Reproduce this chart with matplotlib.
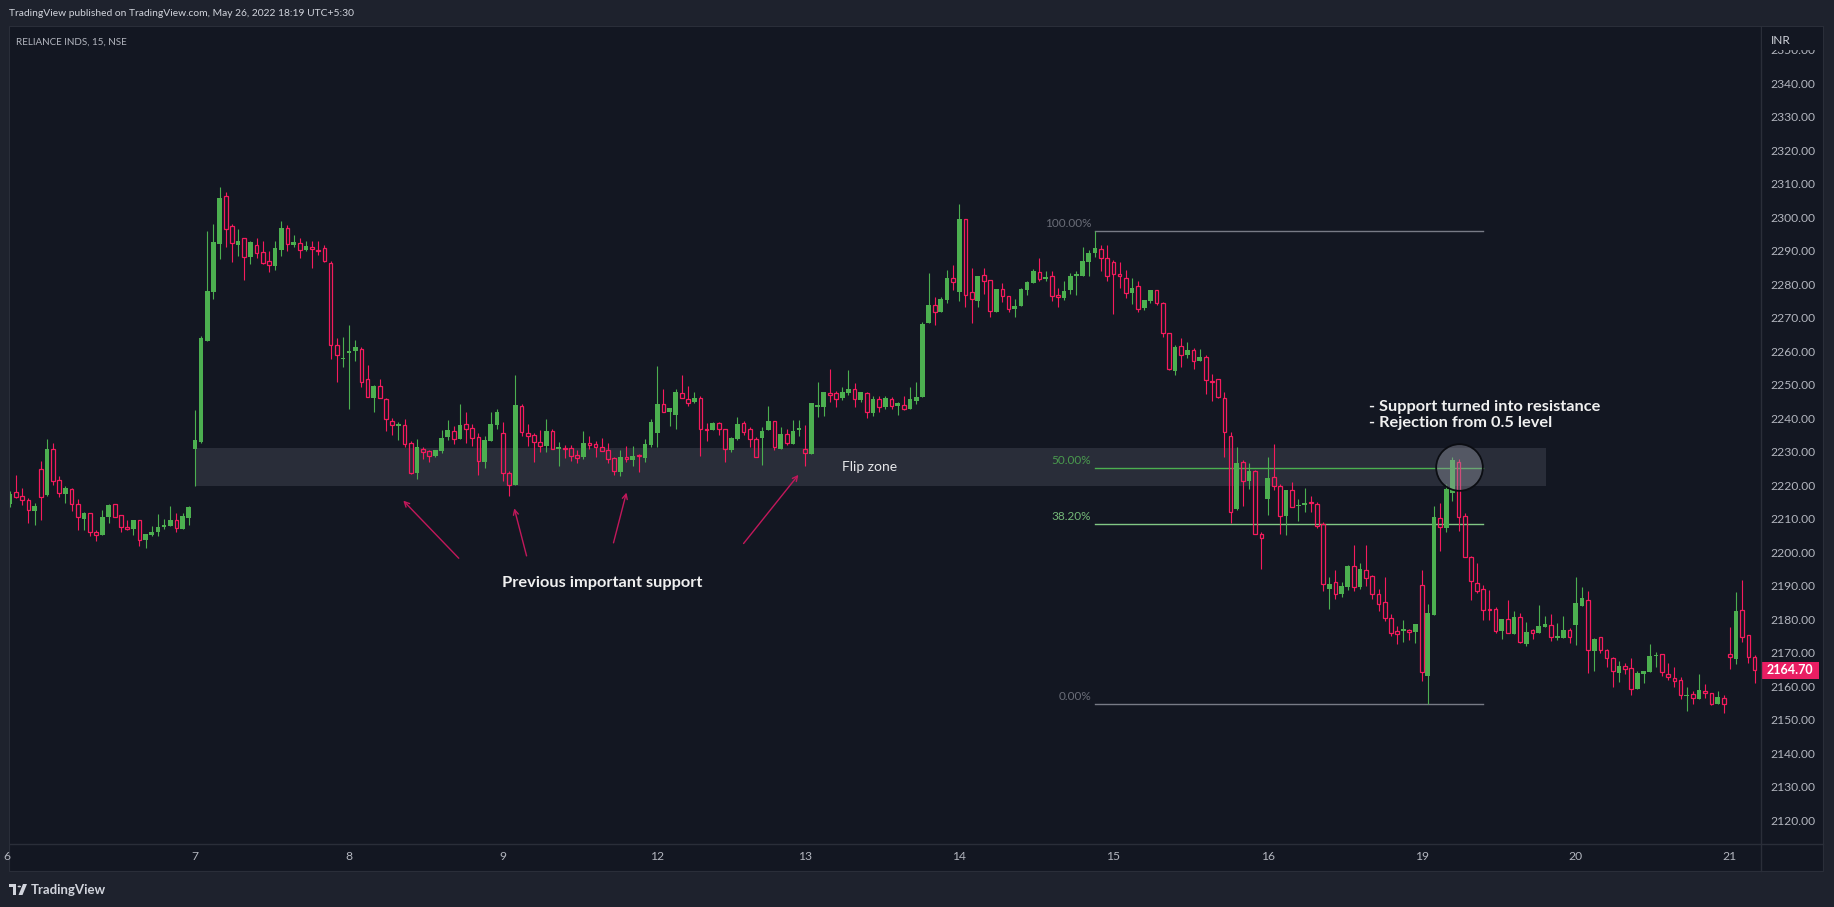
import matplotlib
matplotlib.use("Agg")
import matplotlib.pyplot as plt
import matplotlib.patches as patches
import matplotlib.transforms as mtransforms
import numpy as np

plt.rcParams['font.family'] = ['Lato', 'DejaVu Sans']

W, H = 1834, 907

# 15 min OHLC, RELIANCE INDS
opens = [2214.5, 2217.9, 2216.7, 2215.5, 2212.4, 2224.8, 2217.1, 2230.7, 2221.5, 2217.4,
         2218.8, 2214.3, 2210.0, 2211.6, 2206.1, 2205.2, 2210.5, 2214.3, 2211.0, 2207.5,
         2206.9, 2209.5, 2203.7, 2205.2, 2205.9, 2207.6, 2207.8, 2209.6, 2207.0, 2210.3,
         2230.9, 2232.9, 2263.1, 2277.7, 2292.1, 2306.3, 2297.4, 2291.8, 2293.7, 2288.2,
         2291.6, 2289.5, 2286.9, 2285.3, 2290.3, 2296.7, 2291.8, 2292.2, 2290.2, 2291.0,
         2290.2, 2290.7, 2286.3, 2261.8, 2257.6, 2259.5, 2260.1, 2260.7, 2251.6, 2246.1,
         2249.5, 2245.6, 2239.1, 2237.8, 2237.9, 2232.5, 2223.7, 2230.8, 2230.2, 2228.7,
         2230.2, 2234.4, 2236.1, 2233.9, 2238.2, 2237.0, 2234.3, 2227.0, 2233.3, 2238.1,
         2235.5, 2223.6, 2220.2, 2243.6, 2235.5, 2234.9, 2232.8, 2231.8, 2236.1, 2230.7,
         2231.2, 2231.0, 2228.9, 2228.5, 2232.6, 2232.2, 2231.4, 2230.4, 2228.0, 2224.0,
         2228.4, 2227.6, 2228.9, 2228.2, 2232.0, 2235.7, 2244.2, 2242.0, 2241.1, 2247.5,
         2245.7, 2244.9, 2245.9, 2236.8, 2236.5, 2238.6, 2236.8, 2230.5, 2233.9, 2238.6,
         2236.8, 2233.8, 2234.2, 2236.6, 2239.2, 2230.8, 2235.2, 2232.4, 2236.6, 2230.7,
         2229.3, 2243.5, 2243.5, 2247.5, 2247.4, 2245.9, 2247.6, 2248.6, 2245.5, 2247.4,
         2241.7, 2245.8, 2243.4, 2245.6, 2243.8, 2243.9, 2242.9, 2245.2, 2246.3, 2268.5,
         2273.7, 2271.8, 2275.4, 2281.8, 2277.6, 2299.4, 2277.6, 2275.1, 2282.7, 2281.3,
         2271.7, 2278.6, 2276.6, 2272.6, 2273.5, 2278.3, 2280.5, 2283.6, 2281.7, 2282.4,
         2276.8, 2276.0, 2278.3, 2282.6, 2282.6, 2286.7, 2289.4, 2290.4, 2287.7, 2286.5,
         2283.1, 2281.8, 2277.5, 2279.4, 2273.0, 2275.1, 2278.3, 2274.3, 2265.4, 2254.2,
         2261.6, 2258.8, 2260.4, 2257.0, 2258.2, 2251.2, 2251.6, 2245.9, 2234.6, 2212.9,
         2226.8, 2221.4, 2224.3, 2205.4, 2215.8, 2222.6, 2219.8, 2210.9, 2218.5, 2213.7,
         2214.0, 2215.0, 2214.4, 2208.5, 2189.0, 2191.0, 2187.5, 2189.5, 2195.9, 2189.5,
         2194.7, 2192.9, 2187.5, 2185.0, 2180.5, 2176.5, 2176.6, 2176.8, 2176.3, 2190.1,
         2163.1, 2181.3, 2210.1, 2207.3, 2217.8, 2226.8, 2210.9, 2198.7, 2190.7, 2188.9,
         2183.0, 2182.9, 2176.6, 2180.0, 2175.6, 2180.6, 2172.6, 2176.8, 2175.8, 2177.8,
         2178.2, 2174.5, 2174.5, 2176.7, 2178.4, 2184.0, 2185.8, 2170.6, 2174.6, 2170.8,
         2168.3, 2164.0, 2166.0, 2165.3, 2159.3, 2163.6, 2164.2, 2169.0, 2169.5, 2163.6,
         2162.4, 2161.8, 2157.1, 2157.7, 2156.3, 2158.6, 2157.9, 2154.6, 2156.5, 2169.5,
         2168.1, 2182.6, 2175.2, 2168.6]
highs = [2218.3, 2223.1, 2219.1, 2216.1, 2214.8, 2227.3, 2233.8, 2232.6, 2222.8, 2219.8,
         2219.1, 2215.8, 2212.1, 2211.6, 2206.6, 2212.6, 2214.4, 2214.3, 2211.0, 2209.6,
         2209.6, 2209.7, 2205.5, 2207.9, 2211.4, 2209.9, 2213.8, 2211.6, 2211.6, 2213.8,
         2242.5, 2264.6, 2295.9, 2298.0, 2309.0, 2307.5, 2298.0, 2296.5, 2293.7, 2292.9,
         2293.7, 2292.9, 2289.9, 2292.9, 2298.9, 2297.7, 2294.7, 2293.7, 2292.9, 2292.9,
         2292.9, 2291.7, 2287.0, 2264.0, 2264.3, 2267.8, 2263.4, 2261.2, 2255.9, 2249.9,
         2251.6, 2245.9, 2240.0, 2238.8, 2239.7, 2233.2, 2233.7, 2231.4, 2230.5, 2230.5,
         2236.5, 2239.5, 2237.7, 2244.2, 2241.8, 2238.2, 2235.5, 2234.7, 2241.9, 2242.8,
         2238.8, 2224.1, 2252.9, 2244.2, 2238.2, 2235.7, 2236.5, 2239.8, 2236.7, 2232.9,
         2232.0, 2232.0, 2230.5, 2236.2, 2234.7, 2233.2, 2234.2, 2232.5, 2228.5, 2230.5,
         2231.7, 2231.7, 2229.3, 2233.8, 2239.7, 2255.6, 2248.7, 2243.1, 2248.6, 2252.9,
         2249.6, 2247.8, 2246.6, 2238.5, 2238.9, 2238.9, 2236.8, 2234.5, 2240.4, 2239.2,
         2237.3, 2234.5, 2237.5, 2243.7, 2239.2, 2237.4, 2236.7, 2239.6, 2239.6, 2238.0,
         2244.6, 2250.9, 2247.8, 2254.7, 2248.2, 2249.2, 2254.3, 2250.5, 2247.8, 2247.7,
         2246.5, 2246.6, 2246.5, 2246.3, 2244.9, 2246.6, 2249.3, 2250.8, 2268.7, 2283.4,
         2276.1, 2276.3, 2284.3, 2285.8, 2304.0, 2299.4, 2284.8, 2282.4, 2284.8, 2281.3,
         2278.6, 2280.4, 2276.6, 2275.6, 2279.0, 2281.1, 2284.5, 2287.7, 2284.1, 2284.1,
         2278.8, 2281.0, 2283.5, 2284.0, 2291.2, 2290.2, 2295.8, 2291.7, 2291.7, 2287.2,
         2286.7, 2284.2, 2281.8, 2281.0, 2275.3, 2278.3, 2278.3, 2274.8, 2265.4, 2261.8,
         2264.0, 2262.9, 2260.9, 2260.6, 2258.8, 2253.2, 2251.6, 2247.7, 2235.8, 2231.4,
         2227.5, 2226.6, 2224.6, 2205.9, 2228.4, 2232.3, 2220.4, 2218.6, 2221.0, 2215.8,
         2219.3, 2216.9, 2214.9, 2209.0, 2192.5, 2194.7, 2191.0, 2196.2, 2202.2, 2196.7,
         2202.2, 2193.2, 2189.0, 2192.7, 2181.5, 2178.0, 2179.8, 2177.0, 2178.6, 2194.7,
         2184.5, 2213.8, 2214.6, 2220.3, 2228.5, 2227.7, 2211.6, 2198.9, 2196.7, 2190.2,
         2188.7, 2183.7, 2180.0, 2185.7, 2182.4, 2182.0, 2179.2, 2177.1, 2184.1, 2181.1,
         2181.5, 2178.8, 2181.1, 2177.3, 2192.6, 2189.6, 2188.5, 2174.5, 2174.6, 2171.0,
         2168.6, 2167.5, 2166.8, 2168.5, 2164.5, 2164.6, 2172.5, 2170.3, 2169.5, 2166.8,
         2165.8, 2162.8, 2159.9, 2158.7, 2163.6, 2160.6, 2158.1, 2158.7, 2157.4, 2177.8,
         2188.1, 2191.7, 2175.2, 2169.2]
lows = [2213.6, 2216.1, 2214.1, 2208.8, 2208.1, 2209.6, 2216.8, 2220.1, 2216.6, 2214.8,
        2212.4, 2206.6, 2206.6, 2204.9, 2203.4, 2205.2, 2208.8, 2210.4, 2206.1, 2206.5,
        2205.0, 2201.9, 2201.4, 2204.9, 2204.9, 2206.9, 2207.8, 2206.1, 2207.0, 2208.2,
        2219.9, 2232.5, 2263.1, 2275.7, 2287.6, 2291.2, 2286.5, 2288.4, 2281.4, 2285.9,
        2287.8, 2285.9, 2283.8, 2284.3, 2288.4, 2290.0, 2291.1, 2287.8, 2290.0, 2285.0,
        2288.8, 2286.5, 2257.8, 2250.9, 2255.4, 2242.9, 2257.2, 2249.2, 2246.2, 2242.0,
        2246.1, 2236.3, 2235.1, 2233.5, 2231.5, 2223.4, 2222.0, 2227.8, 2227.0, 2228.5,
        2229.7, 2233.5, 2232.3, 2233.9, 2232.7, 2231.7, 2223.1, 2225.2, 2233.3, 2236.9,
        2221.4, 2216.9, 2220.2, 2234.8, 2231.7, 2227.0, 2230.0, 2230.0, 2230.7, 2225.8,
        2228.2, 2227.3, 2226.7, 2227.7, 2230.9, 2228.5, 2230.1, 2226.7, 2223.1, 2222.9,
        2227.0, 2225.8, 2223.8, 2227.0, 2231.3, 2231.3, 2241.8, 2237.8, 2236.7, 2246.1,
        2243.8, 2244.6, 2228.8, 2233.3, 2236.5, 2235.0, 2227.0, 2230.0, 2233.5, 2235.0,
        2231.5, 2228.5, 2226.1, 2236.6, 2230.5, 2230.8, 2232.0, 2232.4, 2234.7, 2225.6,
        2229.3, 2240.5, 2240.7, 2244.9, 2243.5, 2245.3, 2246.8, 2243.5, 2244.9, 2240.2,
        2240.8, 2241.8, 2242.7, 2242.8, 2241.0, 2242.5, 2242.9, 2244.1, 2246.3, 2268.5,
        2267.9, 2271.8, 2274.5, 2278.3, 2275.1, 2273.3, 2268.5, 2273.1, 2277.1, 2270.1,
        2271.7, 2274.7, 2271.8, 2270.3, 2273.5, 2276.8, 2280.5, 2280.9, 2281.1, 2275.1,
        2273.3, 2275.3, 2277.0, 2276.9, 2282.6, 2282.4, 2288.2, 2284.0, 2281.1, 2271.2,
        2278.8, 2276.0, 2274.0, 2271.7, 2272.3, 2274.5, 2273.8, 2264.2, 2254.4, 2252.9,
        2255.4, 2257.9, 2254.8, 2257.0, 2247.3, 2245.2, 2245.9, 2228.5, 2208.6, 2212.6,
        2213.8, 2219.0, 2205.4, 2194.9, 2211.0, 2218.6, 2205.4, 2205.0, 2213.4, 2209.2,
        2211.9, 2212.1, 2207.1, 2188.5, 2183.0, 2186.0, 2186.5, 2188.8, 2188.5, 2189.0,
        2190.0, 2186.0, 2182.5, 2179.5, 2175.0, 2172.5, 2173.3, 2173.8, 2173.0, 2161.6,
        2154.6, 2181.3, 2200.5, 2206.1, 2215.4, 2206.4, 2198.7, 2185.7, 2187.9, 2179.8,
        2179.9, 2176.0, 2174.1, 2175.8, 2175.6, 2172.8, 2172.1, 2174.2, 2175.8, 2177.8,
        2173.6, 2173.8, 2174.5, 2173.0, 2172.3, 2184.0, 2163.8, 2164.6, 2170.0, 2165.8,
        2159.9, 2161.4, 2163.6, 2157.4, 2159.3, 2161.1, 2164.2, 2165.8, 2163.0, 2161.8,
        2159.9, 2156.3, 2152.7, 2154.7, 2156.3, 2156.6, 2154.4, 2154.6, 2151.9, 2165.0,
        2166.6, 2173.3, 2166.8, 2161.0]
closes = [2217.5, 2216.6, 2215.5, 2212.5, 2213.8, 2216.6, 2230.8, 2221.4, 2217.6, 2219.1,
          2214.3, 2210.6, 2211.7, 2206.1, 2205.2, 2210.5, 2214.1, 2210.4, 2207.5, 2206.9,
          2209.6, 2203.6, 2205.5, 2206.1, 2207.5, 2208.1, 2209.6, 2207.3, 2210.8, 2213.5,
          2233.5, 2264.0, 2278.0, 2292.6, 2305.8, 2296.4, 2292.2, 2292.9, 2288.0, 2292.6,
          2289.3, 2286.2, 2285.6, 2290.8, 2296.8, 2291.9, 2292.6, 2290.1, 2291.4, 2290.6,
          2290.0, 2286.8, 2261.8, 2258.8, 2257.8, 2260.2, 2261.3, 2250.7, 2246.4, 2249.6,
          2246.1, 2239.7, 2238.1, 2237.9, 2232.4, 2223.7, 2231.4, 2230.0, 2228.8, 2230.5,
          2234.1, 2236.5, 2233.9, 2238.0, 2236.9, 2234.2, 2227.1, 2233.5, 2238.2, 2241.8,
          2223.6, 2220.2, 2243.9, 2235.8, 2234.8, 2233.0, 2231.8, 2236.1, 2230.7, 2231.3,
          2230.9, 2228.8, 2228.0, 2232.5, 2232.1, 2231.5, 2230.1, 2227.9, 2224.1, 2228.4,
          2227.7, 2228.7, 2228.6, 2232.3, 2238.9, 2244.2, 2242.0, 2243.1, 2247.8, 2246.1,
          2244.5, 2246.0, 2236.7, 2236.4, 2238.6, 2236.7, 2230.9, 2234.1, 2238.3, 2236.0,
          2233.7, 2228.5, 2236.2, 2239.2, 2231.3, 2235.3, 2232.5, 2236.2, 2236.9, 2229.7,
          2244.6, 2244.0, 2247.8, 2247.0, 2245.6, 2247.8, 2248.7, 2245.6, 2247.8, 2241.8,
          2245.8, 2243.3, 2246.0, 2243.8, 2244.5, 2242.9, 2245.8, 2246.3, 2268.1, 2273.8,
          2271.6, 2275.6, 2281.9, 2280.6, 2299.5, 2276.7, 2275.5, 2282.4, 2281.1, 2272.1,
          2278.6, 2276.6, 2272.7, 2273.5, 2278.6, 2280.6, 2283.9, 2281.7, 2282.1, 2276.6,
          2276.1, 2278.0, 2282.5, 2282.9, 2286.9, 2289.4, 2290.8, 2287.7, 2282.6, 2283.0,
          2282.4, 2277.5, 2278.9, 2272.7, 2275.3, 2278.3, 2274.3, 2265.4, 2254.6, 2261.3,
          2258.8, 2260.4, 2257.0, 2258.4, 2251.3, 2250.7, 2246.4, 2235.8, 2212.1, 2226.6,
          2221.4, 2224.3, 2205.4, 2204.2, 2222.3, 2219.8, 2210.7, 2218.6, 2213.4, 2214.2,
          2214.7, 2214.6, 2207.9, 2190.5, 2190.5, 2187.5, 2190.0, 2195.9, 2189.5, 2195.0,
          2192.2, 2187.5, 2184.5, 2180.5, 2176.0, 2175.5, 2176.8, 2176.3, 2178.6, 2164.1,
          2181.8, 2210.4, 2207.6, 2218.9, 2227.4, 2210.6, 2198.7, 2191.5, 2188.5, 2182.7,
          2182.8, 2176.6, 2180.0, 2175.8, 2180.8, 2173.1, 2176.2, 2175.8, 2178.0, 2178.6,
          2174.6, 2174.7, 2176.8, 2174.6, 2184.7, 2186.2, 2170.7, 2174.0, 2170.7, 2168.3,
          2164.6, 2166.0, 2165.2, 2159.1, 2163.8, 2164.6, 2169.0, 2169.2, 2164.1, 2162.6,
          2161.7, 2157.3, 2157.4, 2156.4, 2158.9, 2157.9, 2154.6, 2156.8, 2154.6, 2168.6,
          2182.4, 2174.8, 2168.8, 2164.7]

day_idx = [30, 55, 80, 105, 129, 154, 179, 204, 229, 254, 279]
day_labels = ["7", "8", "9", "12", "13", "14", "15", "16", "19", "20", "21"]
price_ticks = np.arange(2120, 2351, 10)

flip_zone = (2219.8, 2231.0)
fib_high, fib_low = 2295.8, 2154.6
fib_levels = [1.0, 0.5, 0.382, 0.0]
fib_labels = ["100.00%", "50.00%", "38.20%", "0.00%"]
fib_colors = ["#787b86", "#4caf50", "#81c784", "#787b86"]
fib_text_colors = ["#6a6d78", "#4a9a4e", "#74b878", "#6a6d78"]

arrows = [((72.8, 2198.2), (63.8, 2215.4)),
          ((83.8, 2198.9), (81.8, 2213.1)),
          ((97.9, 2202.8), (100.0, 2217.8)),
          ((119.0, 2202.6), (127.9, 2223.1))]

BG = "#131722"
FRAME = "#1e222d"
LINE = "#2a2e39"
TXT = "#b2b5be"
GREEN = "#4caf50"
RED = "#f51b5d"


def fx(px):
    return px / W


def fy(py):
    return 1 - py / H


fig = plt.figure(figsize=(W / 100, H / 100), dpi=100, facecolor=FRAME)

# chart panel
fig.patches.append(patches.Rectangle((fx(9), fy(871)), fx(1823) - fx(9), fy(26) - fy(871),
                                     transform=fig.transFigure, fc=BG, ec=LINE, lw=0.8, zorder=-1))

ax = fig.add_axes([fx(10), fy(844.3), fx(1760.7) - fx(10), fy(27) - fy(844.3)])
ax.set_facecolor(BG)
ax.set_xlim(0, 284.0)
ax.set_ylim(2112.8, 2356.8)
for s in ax.spines.values():
    s.set_visible(False)

o = np.array(opens)
c = np.array(closes)
h = np.array(highs)
l = np.array(lows)
x = np.arange(len(o))
up = c >= o
lo = np.minimum(o, c)
hi = np.maximum(o, c)

# flip zone
ax.add_patch(patches.Rectangle((30, flip_zone[0]), 249.2 - 30, flip_zone[1] - flip_zone[0],
                               fc="#292d39", ec="none", zorder=1))
ax.text(139.4, sum(flip_zone) / 2, "Flip zone", color="#e6e7ea", fontsize=10,
        ha="center", va="center", zorder=6)

# fib retracement
for lev, lab, col, tcol in zip(fib_levels, fib_labels, fib_colors, fib_text_colors):
    p = fib_low + (fib_high - fib_low) * lev
    ax.plot([176.0, 239.0], [p, p], color=col, lw=1.0, zorder=1.5)
    ax.text(175.4, p + 2.2, lab, color=tcol, fontsize=8.5, ha="right", va="center", zorder=6)

# candles
ax.vlines(x[up], l[up], h[up], color=GREEN, lw=0.8, zorder=2)
ax.bar(x[up], np.maximum(hi - lo, 0.35)[up], bottom=lo[up], width=0.76,
       color=GREEN, linewidth=0, zorder=3)
ax.vlines(x[~up], hi[~up], h[~up], color=RED, lw=0.8, zorder=2)
ax.vlines(x[~up], l[~up], lo[~up], color=RED, lw=0.8, zorder=2)
ax.bar(x[~up], (hi - lo)[~up], bottom=lo[~up], width=0.6,
       facecolor="none", edgecolor=RED, linewidth=0.9, zorder=3)

# arrows
for tail, head in arrows:
    ax.annotate("", xy=head, xytext=tail,
                arrowprops=dict(arrowstyle="->", color="#c2185b", lw=1.0,
                                mutation_scale=9, shrinkA=0, shrinkB=0), zorder=5)

ax.text(96.0, 2190.9, "Previous important support", color="#f0f0f0", fontsize=11.8,
        fontweight="bold", ha="center", va="center", zorder=6)
ax.text(220.5, 2243.5, "- Support turned into resistance", color="#f0f0f0", fontsize=11.8,
        fontweight="bold", ha="left", va="center", zorder=6)
ax.text(220.5, 2238.7, "- Rejection from 0.5 level", color="#f0f0f0", fontsize=11.8,
        fontweight="bold", ha="left", va="center", zorder=6)

# highlight circle
ax.plot([235.1], [2225.3], marker="o", ms=33.6, mfc=(0.59, 0.6, 0.65, 0.4),
        mec="#0b0d12", mew=1.3, zorder=7)

# axes ticks
ax.yaxis.tick_right()
ax.set_yticks(price_ticks)
ax.set_yticklabels([f"{v:.2f}" for v in price_ticks])
ax.set_xticks(day_idx)
ax.set_xticklabels(day_labels)
ax.tick_params(axis="both", length=0, colors=TXT, labelsize=8.7)
ax.tick_params(axis="y", pad=7)
ax.tick_params(axis="x", pad=5)
fig.text(fx(7), fy(857), "6", color=TXT, fontsize=8.7, ha="center", va="center")

# separators
fig.lines.append(plt.Line2D([fx(1760.7), fx(1760.7)], [fy(27), fy(871)],
                            transform=fig.transFigure, color=LINE, lw=1.0))
fig.lines.append(plt.Line2D([fx(10), fx(1823)], [fy(844.3), fy(844.3)],
                            transform=fig.transFigure, color=LINE, lw=1.0))

# cover over the top price label + currency
fig.patches.append(patches.Rectangle((fx(1761.5), fy(49.5)), fx(1822.5) - fx(1761.5), fy(27) - fy(49.5),
                                     transform=fig.transFigure, fc=BG, ec="none", zorder=5))
fig.text(fx(1771), fy(40.5), "INR", color="#d1d4dc", fontsize=8.5, ha="left", va="center", zorder=6)

# last price tag
tr = mtransforms.blended_transform_factory(ax.transAxes, ax.transData)
ax.add_patch(patches.Rectangle((1.0003, c[-1] - 2.45), 58 / 1750.7, 4.9, transform=tr,
                               fc="#e91e63", ec="none", clip_on=False, zorder=8))
ax.text(1.0003 + 29 / 1750.7, c[-1], f"{c[-1]:.2f}", transform=tr, color="white",
        fontsize=9, fontweight="bold", ha="center", va="center", clip_on=False, zorder=9)

# header and footer
fig.text(fx(9), fy(14), "TradingView published on TradingView.com, May 26, 2022 18:19 UTC+5:30",
         color="#d1d4dc", fontsize=7.35, ha="left", va="center")
fig.text(fx(16), fy(42.5), "RELIANCE INDS, 15, NSE", color=TXT, fontsize=7.1, ha="left", va="center")

# TradingView logo
fig.patches.append(patches.Rectangle((fx(9), fy(887)), fx(16) - fx(9), fy(884) - fy(887),
                                     transform=fig.transFigure, fc="#d1d4dc", ec="none"))
fig.patches.append(patches.Rectangle((fx(12.5), fy(895)), fx(16) - fx(12.5), fy(884) - fy(895),
                                     transform=fig.transFigure, fc="#d1d4dc", ec="none"))
fig.patches.append(patches.Circle((fx(19.3), fy(886.5)), 1.7 / W, transform=fig.transFigure,
                                  fc="#d1d4dc", ec="none"))
fig.patches.append(patches.Polygon([(fx(18.5), fy(895)), (fx(23), fy(884)), (fx(27), fy(884)),
                                    (fx(22.5), fy(895))], closed=True, transform=fig.transFigure,
                                   fc="#d1d4dc", ec="none"))
fig.text(fx(31), fy(889.5), "TradingView", color="#d1d4dc", fontsize=9.5,
         fontweight="bold", ha="left", va="center")

fig.savefig("out.png", dpi=100, facecolor=FRAME)
